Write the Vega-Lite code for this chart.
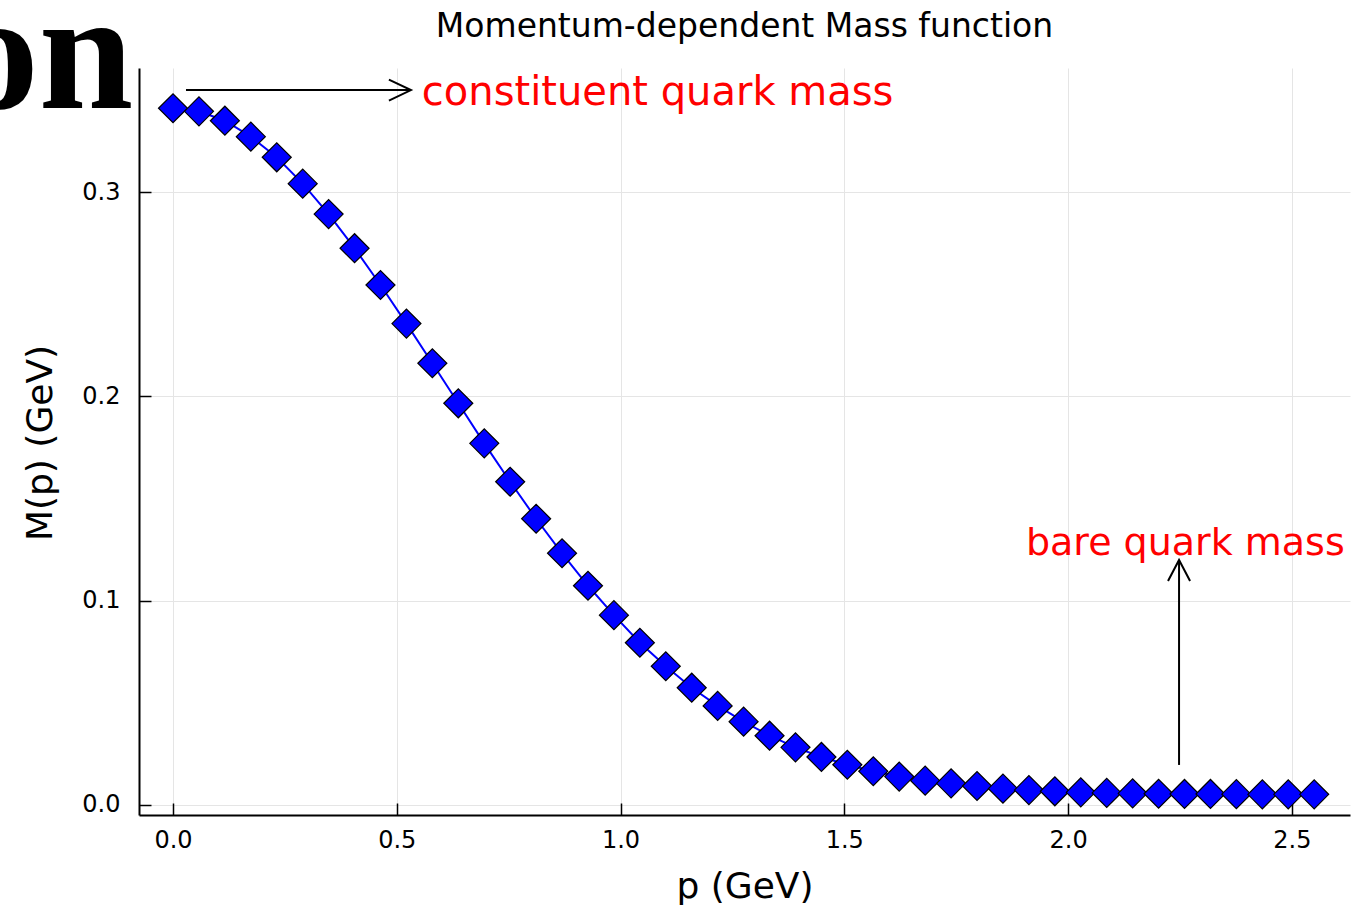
{
  "$schema": "https://vega.github.io/schema/vega-lite/v6.json",
  "width": 1211,
  "height": 747,
  "autosize": {"type": "none"},
  "padding": {"left": 139, "top": 68, "right": 17, "bottom": 90},
  "background": "white",
  "config": {
    "font": "DejaVu Sans",
    "view": {"stroke": null}
  },
  "title": {
    "text": "Momentum-dependent Mass function",
    "fontSize": 33,
    "fontWeight": "normal",
    "font": "DejaVu Sans",
    "color": "#000000",
    "anchor": "middle",
    "baseline": "alphabetic",
    "offset": 31,
    "dy": 129
  },
  "datasets": {
    "mass": [
      {"p": 0, "M": 0.3410}, {"p": 0.058, "M": 0.3395}, {"p": 0.1159, "M": 0.3349},
      {"p": 0.1739, "M": 0.3271}, {"p": 0.2318, "M": 0.3170}, {"p": 0.2898, "M": 0.3041},
      {"p": 0.3477, "M": 0.2892}, {"p": 0.4057, "M": 0.2725}, {"p": 0.4636, "M": 0.2545},
      {"p": 0.5216, "M": 0.2356}, {"p": 0.5795, "M": 0.2162}, {"p": 0.6375, "M": 0.1966},
      {"p": 0.6955, "M": 0.1770}, {"p": 0.7534, "M": 0.1582}, {"p": 0.8114, "M": 0.1401},
      {"p": 0.8693, "M": 0.1232}, {"p": 0.9273, "M": 0.1073}, {"p": 0.9852, "M": 0.0929},
      {"p": 1.0432, "M": 0.0794}, {"p": 1.1011, "M": 0.0679}, {"p": 1.1591, "M": 0.0574},
      {"p": 1.2170, "M": 0.0485}, {"p": 1.2750, "M": 0.0408}, {"p": 1.3330, "M": 0.0339},
      {"p": 1.3909, "M": 0.0282}, {"p": 1.4489, "M": 0.0235}, {"p": 1.5068, "M": 0.0197},
      {"p": 1.5648, "M": 0.0165}, {"p": 1.6227, "M": 0.0139}, {"p": 1.6807, "M": 0.0119},
      {"p": 1.7386, "M": 0.0106}, {"p": 1.7966, "M": 0.0093}, {"p": 1.8545, "M": 0.0080},
      {"p": 1.9125, "M": 0.0073}, {"p": 1.9705, "M": 0.0067}, {"p": 2.0284, "M": 0.0062},
      {"p": 2.0864, "M": 0.0059}, {"p": 2.1443, "M": 0.0057}, {"p": 2.2023, "M": 0.0055},
      {"p": 2.2602, "M": 0.0054}, {"p": 2.3182, "M": 0.0054}, {"p": 2.3761, "M": 0.0053},
      {"p": 2.4341, "M": 0.0052}, {"p": 2.4920, "M": 0.0052}, {"p": 2.55, "M": 0.0052}
    ],
    "arrows": [
      {"dir": "right", "p": 0.029, "M": 0.3499, "p2": 0.5317, "M2": 0.3499},
      {"dir": "up", "p": 2.248, "M": 0.0196, "p2": 2.248, "M2": 0.1199}
    ],
    "labels": [
      {"id": "constituent", "text": "constituent quark mass", "p": 0.556, "M": 0.3426},
      {"id": "bare", "text": "bare quark mass", "p": 2.262, "M": 0.1223},
      {"id": "corner", "text": "on", "p": -0.089, "M": 0.341}
    ]
  },
  "encoding": {
    "x": {
      "field": "p",
      "type": "quantitative",
      "scale": {"domain": [-0.076, 2.63], "nice": false, "zero": false},
      "axis": {
        "values": [0, 0.5, 1, 1.5, 2, 2.5],
        "format": ".1f",
        "title": "p (GeV)",
        "titleFontSize": 36,
        "titleFontWeight": "normal",
        "titleColor": "#000000",
        "titleBaseline": "alphabetic",
        "titleAlign": "center",
        "titleX": 605.5,
        "titleY": 82,
        "labelFontSize": 24,
        "labelColor": "#000000",
        "labelPadding": 25.5,
        "labelBaseline": "top",
        "labelFlush": false,
        "grid": true,
        "gridColor": "#e5e5e5",
        "gridWidth": 1,
        "domainColor": "#000000",
        "domainWidth": 2,
        "tickColor": "#000000",
        "tickWidth": 1.5,
        "tickSize": -12
      }
    },
    "y": {
      "field": "M",
      "type": "quantitative",
      "scale": {"domain": [-0.0049, 0.3607], "nice": false, "zero": false},
      "axis": {
        "values": [0, 0.1, 0.2, 0.3],
        "format": ".1f",
        "title": "M(p) (GeV)",
        "titleFontSize": 36,
        "titleFontWeight": "normal",
        "titleColor": "#000000",
        "titleBaseline": "alphabetic",
        "titleAlign": "center",
        "titleAngle": -90,
        "titleX": -88,
        "titleY": 374.5,
        "labelFontSize": 24,
        "labelColor": "#000000",
        "labelPadding": 31,
        "labelBaseline": "middle",
        "labelFlush": false,
        "grid": true,
        "gridColor": "#e5e5e5",
        "gridWidth": 1,
        "domainColor": "#000000",
        "domainWidth": 2,
        "tickColor": "#000000",
        "tickWidth": 1.5,
        "tickSize": -12
      }
    }
  },
  "layer": [
    {
      "data": {"name": "mass"},
      "mark": {"type": "line", "color": "#0000ff", "strokeWidth": 2}
    },
    {
      "data": {"name": "mass"},
      "mark": {"type": "point", "shape": "diamond", "size": 841, "filled": true, "fill": "#0000ff", "stroke": "#000000", "strokeWidth": 1.2, "opacity": 1}
    },
    {
      "data": {"name": "arrows"},
      "mark": {"type": "rule", "color": "#000000", "strokeWidth": 2},
      "encoding": {
        "x2": {"field": "p2"},
        "y2": {"field": "M2"}
      }
    },
    {
      "data": {"name": "arrows"},
      "mark": {"type": "point", "filled": false, "stroke": "#000000", "strokeWidth": 2, "size": 441, "opacity": 1},
      "encoding": {
        "x": {"field": "p2", "type": "quantitative"},
        "y": {"field": "M2", "type": "quantitative"},
        "shape": {
          "field": "dir",
          "type": "nominal",
          "scale": {"domain": ["right", "up"], "range": ["M-2.1,-1L0,0L-2.1,1", "M-1.05,2L0,0L1.05,2"]},
          "legend": null
        }
      }
    },
    {
      "data": {"name": "labels"},
      "transform": [{"filter": "datum.id === 'constituent'"}],
      "mark": {"type": "text", "align": "left", "baseline": "alphabetic", "fontSize": 40, "color": "#ff0000", "font": "DejaVu Sans"},
      "encoding": {"text": {"field": "text"}}
    },
    {
      "data": {"name": "labels"},
      "transform": [{"filter": "datum.id === 'bare'"}],
      "mark": {"type": "text", "align": "center", "baseline": "alphabetic", "fontSize": 38, "color": "#ff0000", "font": "DejaVu Sans"},
      "encoding": {"text": {"field": "text"}}
    },
    {
      "data": {"name": "labels"},
      "transform": [{"filter": "datum.id === 'corner'"}],
      "mark": {"type": "text", "align": "right", "baseline": "alphabetic", "fontSize": 170, "fontWeight": "bold", "color": "#000000", "font": "Liberation Serif"},
      "encoding": {"text": {"field": "text"}}
    }
  ]
}
